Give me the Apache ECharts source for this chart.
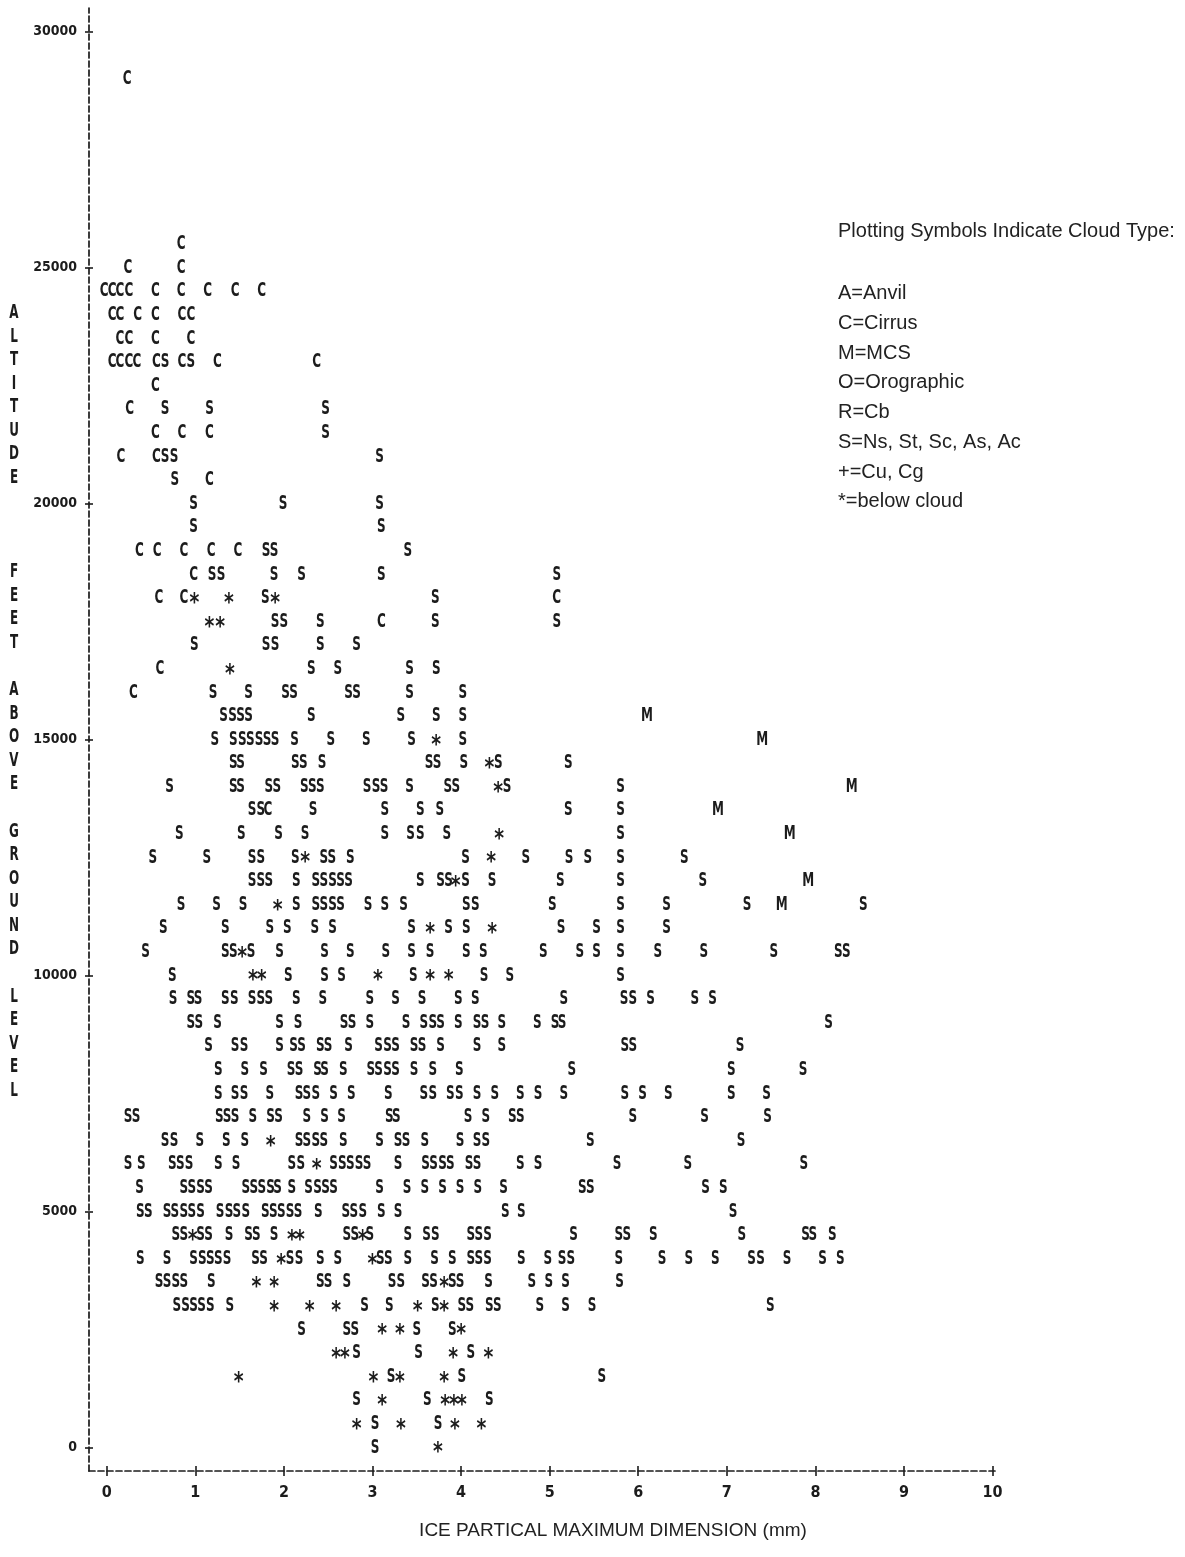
<!DOCTYPE html>
<html>
<head>
<meta charset="utf-8">
<script src="https://cdn.jsdelivr.net/npm/echarts@6/dist/echarts.min.js"></script>
<style>
html,body{margin:0;padding:0;background:#fff;}
#chart{width:1185px;height:1557px;}
</style>
</head>
<body>
<div id="chart"></div>
<script>
// ---- axis ticks ----
const xTickValues = [0, 1, 2, 3, 4, 5, 6, 7, 8, 9, 10];
const yTickValues = [0, 5000, 10000, 15000, 20000, 25000, 30000];

// ---- data: each row = [altitude (ft), particle size (mm), ...] ----
const cirrusRows = [
  [29000, 0.23],
  [25500, 0.84],
  [25000, 0.24, 0.84],
  [24500, -0.03, 0.06, 0.15, 0.25, 0.55, 0.84, 1.14, 1.45, 1.75],
  [24000, 0.06, 0.15, 0.35, 0.55, 0.85, 0.95],
  [23500, 0.15, 0.25, 0.55, 0.95],
  [23000, 0.06, 0.15, 0.25, 0.34, 0.56, 0.85, 1.25, 2.37],
  [22500, 0.55],
  [22000, 0.26],
  [21500, 0.55, 0.85, 1.16],
  [21000, 0.16, 0.56],
  [20500, 1.16],
  [19000, 0.37, 0.57, 0.87, 1.18, 1.48],
  [18500, 0.98],
  [18000, 0.59, 0.87, 5.08],
  [17500, 3.10],
  [16500, 0.60],
  [16000, 0.30],
  [13500, 1.82]
];

const mcsRows = [
  [15500, 6.10],
  [15000, 7.40],
  [14000, 8.41],
  [13500, 6.90],
  [13000, 7.71],
  [12000, 7.92],
  [11500, 7.62]
];

const belowCloudRows = [
  [18000, 0.99, 1.38, 1.90],
  [17500, 1.16, 1.28],
  [16500, 1.39],
  [15000, 3.72],
  [14500, 4.32],
  [14000, 4.42],
  [13000, 4.43],
  [12500, 2.24, 4.34],
  [12000, 3.94],
  [11500, 1.93],
  [11000, 3.65, 4.35],
  [10500, 1.53],
  [10000, 1.65, 1.75, 3.06, 3.65, 3.86],
  [6500, 1.85],
  [6000, 2.37],
  [4500, 0.97, 2.09, 2.18, 2.89],
  [4000, 1.97, 3.00],
  [3500, 1.69, 1.89, 3.81],
  [3000, 1.89, 2.29, 2.59, 3.51, 3.81],
  [2500, 3.11, 3.31, 4.00],
  [2000, 2.59, 2.69, 3.91, 4.31],
  [1500, 1.49, 3.01, 3.31, 3.81],
  [1000, 3.11, 3.82, 3.92, 4.01],
  [500, 2.82, 3.32, 3.93, 4.23],
  [0, 3.74]
];

const stratiformRows = [
  [23000, 0.66, 0.95],
  [22000, 0.66, 1.16, 2.47],
  [21500, 2.47],
  [21000, 0.66, 0.76, 3.08],
  [20500, 0.77],
  [20000, 0.98, 1.99, 3.08],
  [19500, 0.98, 3.10],
  [19000, 1.80, 1.89, 3.40],
  [18500, 1.19, 1.29, 1.89, 2.20, 3.10, 5.08],
  [18000, 1.79, 3.71],
  [17500, 1.90, 2.00, 2.41, 3.71, 5.08],
  [17000, 0.99, 1.80, 1.90, 2.41, 2.82],
  [16500, 2.31, 2.61, 3.42, 3.72],
  [16000, 1.20, 1.60, 2.02, 2.11, 2.73, 2.82, 3.42, 4.02],
  [15500, 1.32, 1.42, 1.51, 1.60, 2.31, 3.32, 3.72, 4.02],
  [15000, 1.22, 1.43, 1.53, 1.62, 1.72, 1.81, 1.90, 2.12, 2.53, 2.93, 3.44, 4.02],
  [14500, 1.43, 1.51, 2.13, 2.22, 2.43, 3.64, 3.73, 4.03, 4.42, 5.21],
  [14000, 0.71, 1.43, 1.51, 1.83, 1.92, 2.23, 2.32, 2.41, 2.94, 3.04, 3.13, 3.42, 3.85, 3.94, 4.52, 5.80],
  [13500, 1.64, 1.74, 2.33, 3.14, 3.54, 3.76, 5.21, 5.80],
  [13000, 0.82, 1.52, 1.94, 2.24, 3.14, 3.43, 3.54, 3.84, 5.80],
  [12500, 0.52, 1.13, 1.64, 1.74, 2.13, 2.45, 2.54, 2.75, 4.05, 4.73, 5.22, 5.43, 5.80, 6.52],
  [12000, 1.64, 1.74, 1.83, 2.14, 2.36, 2.45, 2.55, 2.64, 2.73, 3.54, 3.77, 3.86, 4.05, 4.35, 5.12, 5.80, 6.73],
  [11500, 0.84, 1.24, 1.54, 2.14, 2.36, 2.45, 2.55, 2.64, 2.95, 3.14, 3.35, 4.06, 4.16, 5.03, 5.80, 6.32, 7.23, 8.54],
  [11000, 0.64, 1.34, 1.84, 2.04, 2.35, 2.55, 3.44, 3.86, 4.06, 5.13, 5.53, 5.80, 6.32],
  [10500, 0.44, 1.34, 1.43, 1.63, 1.95, 2.46, 2.75, 3.15, 3.44, 3.65, 4.06, 4.25, 4.93, 5.34, 5.53, 5.80, 6.22, 6.74, 7.53, 8.26, 8.35],
  [10000, 0.74, 2.05, 2.46, 2.65, 3.46, 4.26, 4.55, 5.80],
  [9500, 0.75, 0.95, 1.03, 1.34, 1.44, 1.64, 1.74, 1.83, 2.14, 2.44, 2.97, 3.26, 3.56, 3.97, 4.16, 5.16, 5.84, 5.94, 6.14, 6.64, 6.84],
  [9000, 0.95, 1.04, 1.25, 1.95, 2.16, 2.68, 2.77, 2.97, 3.38, 3.58, 3.68, 3.77, 3.97, 4.18, 4.27, 4.46, 4.86, 5.06, 5.14, 8.15],
  [8500, 1.15, 1.45, 1.55, 1.95, 2.11, 2.20, 2.41, 2.50, 2.73, 3.07, 3.17, 3.26, 3.47, 3.56, 3.77, 4.18, 4.46, 5.85, 5.94, 7.15],
  [8000, 1.26, 1.56, 1.77, 2.08, 2.17, 2.38, 2.46, 2.67, 2.98, 3.07, 3.17, 3.26, 3.47, 3.68, 3.98, 5.25, 7.05, 7.86],
  [7500, 1.26, 1.45, 1.55, 1.84, 2.17, 2.26, 2.36, 2.56, 2.76, 3.18, 3.58, 3.68, 3.88, 3.98, 4.18, 4.38, 4.67, 4.87, 5.16, 5.85, 6.05, 6.34, 7.05, 7.45],
  [7000, 0.24, 0.33, 1.27, 1.36, 1.45, 1.65, 1.85, 1.94, 2.26, 2.46, 2.65, 3.19, 3.27, 4.08, 4.28, 4.58, 4.67, 5.94, 6.75, 7.46],
  [6500, 0.66, 0.76, 1.05, 1.35, 1.56, 2.17, 2.26, 2.36, 2.45, 2.67, 3.08, 3.29, 3.38, 3.59, 3.99, 4.18, 4.28, 5.46, 7.16],
  [6000, 0.24, 0.39, 0.74, 0.83, 0.93, 1.26, 1.46, 2.09, 2.19, 2.56, 2.66, 2.75, 2.85, 2.94, 3.29, 3.60, 3.69, 3.79, 3.88, 4.09, 4.18, 4.67, 4.87, 5.76, 6.56, 7.87],
  [5500, 0.37, 0.87, 0.96, 1.06, 1.15, 1.57, 1.66, 1.75, 1.85, 1.93, 2.09, 2.28, 2.38, 2.47, 2.56, 3.08, 3.39, 3.59, 3.79, 3.99, 4.19, 4.48, 5.37, 5.46, 6.76, 6.96],
  [5000, 0.38, 0.47, 0.68, 0.77, 0.87, 0.96, 1.06, 1.28, 1.38, 1.47, 1.57, 1.79, 1.88, 1.97, 2.07, 2.16, 2.39, 2.70, 2.79, 2.89, 3.10, 3.29, 4.50, 4.68, 7.07],
  [4500, 0.78, 0.87, 1.06, 1.15, 1.38, 1.60, 1.69, 1.89, 2.71, 2.80, 2.97, 3.40, 3.61, 3.71, 4.11, 4.20, 4.30, 5.27, 5.78, 5.87, 6.17, 7.17, 7.89, 7.97, 8.19],
  [4000, 0.38, 0.68, 0.98, 1.08, 1.17, 1.26, 1.36, 1.68, 1.77, 2.07, 2.17, 2.41, 2.61, 3.09, 3.18, 3.40, 3.70, 3.90, 4.11, 4.20, 4.30, 4.68, 4.98, 5.14, 5.24, 5.78, 6.27, 6.57, 6.87, 7.28, 7.38, 7.68, 8.08, 8.28],
  [3500, 0.59, 0.68, 0.78, 0.87, 1.18, 2.41, 2.50, 2.71, 3.22, 3.32, 3.60, 3.69, 3.90, 3.99, 4.31, 4.80, 4.99, 5.18, 5.79],
  [3000, 0.79, 0.89, 0.98, 1.07, 1.17, 1.39, 2.91, 3.19, 3.71, 4.01, 4.10, 4.32, 4.41, 4.89, 5.18, 5.48, 7.49],
  [2500, 2.20, 2.71, 2.80, 3.50, 3.90],
  [2000, 2.82, 3.52, 4.11],
  [1500, 3.21, 4.01, 5.59],
  [1000, 2.82, 3.62, 4.32],
  [500, 3.03, 3.74],
  [0, 3.03]
];

// ---- text ----
const yAxisTitleLines = ['A','L','T','I','T','U','D','E','','','','F','E','E','T','','A','B','O','V','E','','G','R','O','U','N','D','','L','E','V','E','L'];
const xAxisTitle = 'ICE PARTICAL MAXIMUM DIMENSION (mm)';
const legendTitle = 'Plotting Symbols Indicate Cloud Type:';
const legendLines = ['A=Anvil','C=Cirrus','M=MCS','O=Orographic','R=Cb','S=Ns, St, Sc, As, Ac','+=Cu, Cg','*=below cloud'];

// ---- build ----
function rowsToPoints(rows) {
  const out = [];
  rows.forEach(r => { for (let i = 1; i < r.length; i++) out.push([r[i], r[0]]); });
  return out;
}

const INK = '#1c1c1c';
const GLYPH_FONT = '"DejaVu Sans", "Liberation Sans", sans-serif';
const TICK_FONT = '"DejaVu Sans Condensed", "DejaVu Sans", sans-serif';

function glyphSeries(name, rows, ch, fontSize, scaleX, dy) {
  return {
    type: 'custom',
    name: name,
    coordinateSystem: 'cartesian2d',
    xAxisIndex: 0,
    yAxisIndex: 0,
    silent: true,
    animation: false,
    encode: { x: 0, y: 1 },
    data: rowsToPoints(rows),
    renderItem: function (params, api) {
      const p = api.coord([api.value(0), api.value(1)]);
      return {
        type: 'text',
        x: p[0],
        y: p[1] + dy,
        scaleX: scaleX,
        style: {
          text: ch,
          fontFamily: GLYPH_FONT,
          fontSize: fontSize,
          fontWeight: 'bold',
          fill: INK,
          align: 'center',
          verticalAlign: 'middle'
        }
      };
    }
  };
}

const axisLineStyle = { color: INK, width: 1.7, type: [6, 3] };
const plainNumber = v => String(v);

const X_MIN = -0.2, X_MAX = 10.05, Y_MIN = -500, Y_MAX = 30500;

const option = {
  backgroundColor: '#ffffff',
  animation: false,
  grid: { left: 89, right: 188, top: 8, bottom: 86, containLabel: false },
  xAxis: [
    {
      type: 'value', min: X_MIN, max: X_MAX, position: 'bottom',
      axisLine: { show: true, onZero: false, lineStyle: axisLineStyle },
      axisTick: { show: true, length: 5, customValues: xTickValues, lineStyle: { color: INK, width: 1.6 } },
      axisLabel: { customValues: xTickValues, formatter: plainNumber, margin: 14, color: INK, fontFamily: TICK_FONT, fontWeight: 'bold', fontSize: 16 },
      splitLine: { show: false }
    },
    {
      type: 'value', min: X_MIN, max: X_MAX, position: 'bottom',
      axisLine: { show: false, onZero: false },
      axisTick: { show: true, inside: true, length: 5, customValues: xTickValues, lineStyle: { color: INK, width: 1.6 } },
      axisLabel: { show: false },
      splitLine: { show: false }
    }
  ],
  yAxis: [
    {
      type: 'value', min: Y_MIN, max: Y_MAX, position: 'left',
      axisLine: { show: true, onZero: false, lineStyle: axisLineStyle },
      axisTick: { show: true, length: 4, customValues: yTickValues, lineStyle: { color: INK, width: 1.6 } },
      axisLabel: { customValues: yTickValues, formatter: plainNumber, margin: 12, color: INK, fontFamily: TICK_FONT, fontWeight: 'bold', fontSize: 14 },
      splitLine: { show: false }
    },
    {
      type: 'value', min: Y_MIN, max: Y_MAX, position: 'left',
      axisLine: { show: false, onZero: false },
      axisTick: { show: true, inside: true, length: 4, customValues: yTickValues, lineStyle: { color: INK, width: 1.6 } },
      axisLabel: { show: false },
      splitLine: { show: false }
    }
  ],
  graphic: [
    {
      type: 'text', x: 14, y: 301, scaleX: 0.6, silent: true,
      style: { text: yAxisTitleLines.join('\n'), fontFamily: GLYPH_FONT, fontWeight: 'bold', fontSize: 20,
               lineHeight: 23.57, fill: INK, align: 'center', verticalAlign: 'top' }
    },
    {
      type: 'text', x: 613, y: 1531, silent: true,
      style: { text: xAxisTitle, fontFamily: '"Liberation Sans", Arial, sans-serif', fontSize: 19,
               fill: '#222', align: 'center', verticalAlign: 'middle' }
    },
    {
      type: 'text', x: 838, y: 231, silent: true,
      style: { text: legendTitle, fontFamily: '"Liberation Sans", Arial, sans-serif', fontSize: 20,
               fill: '#222', align: 'left', verticalAlign: 'middle' }
    },
    {
      type: 'text', x: 838, y: 279, silent: true,
      style: { text: legendLines.join('\n'), fontFamily: '"Liberation Sans", Arial, sans-serif', fontSize: 20,
               lineHeight: 29.7, fill: '#222', align: 'left', verticalAlign: 'top' }
    }
  ],
  series: [
    glyphSeries('S=Ns, St, Sc, As, Ac', stratiformRows, 'S', 20, 0.6, 0),
    glyphSeries('C=Cirrus', cirrusRows, 'C', 20, 0.6, 0),
    glyphSeries('M=MCS', mcsRows, 'M', 20, 0.6, 0),
    glyphSeries('*=below cloud', belowCloudRows, '*', 25, 0.75, 5.5)
  ]
};

const chart = echarts.init(document.getElementById('chart'), null, { renderer: 'canvas' });
chart.setOption(option);
</script>
</body>
</html>
